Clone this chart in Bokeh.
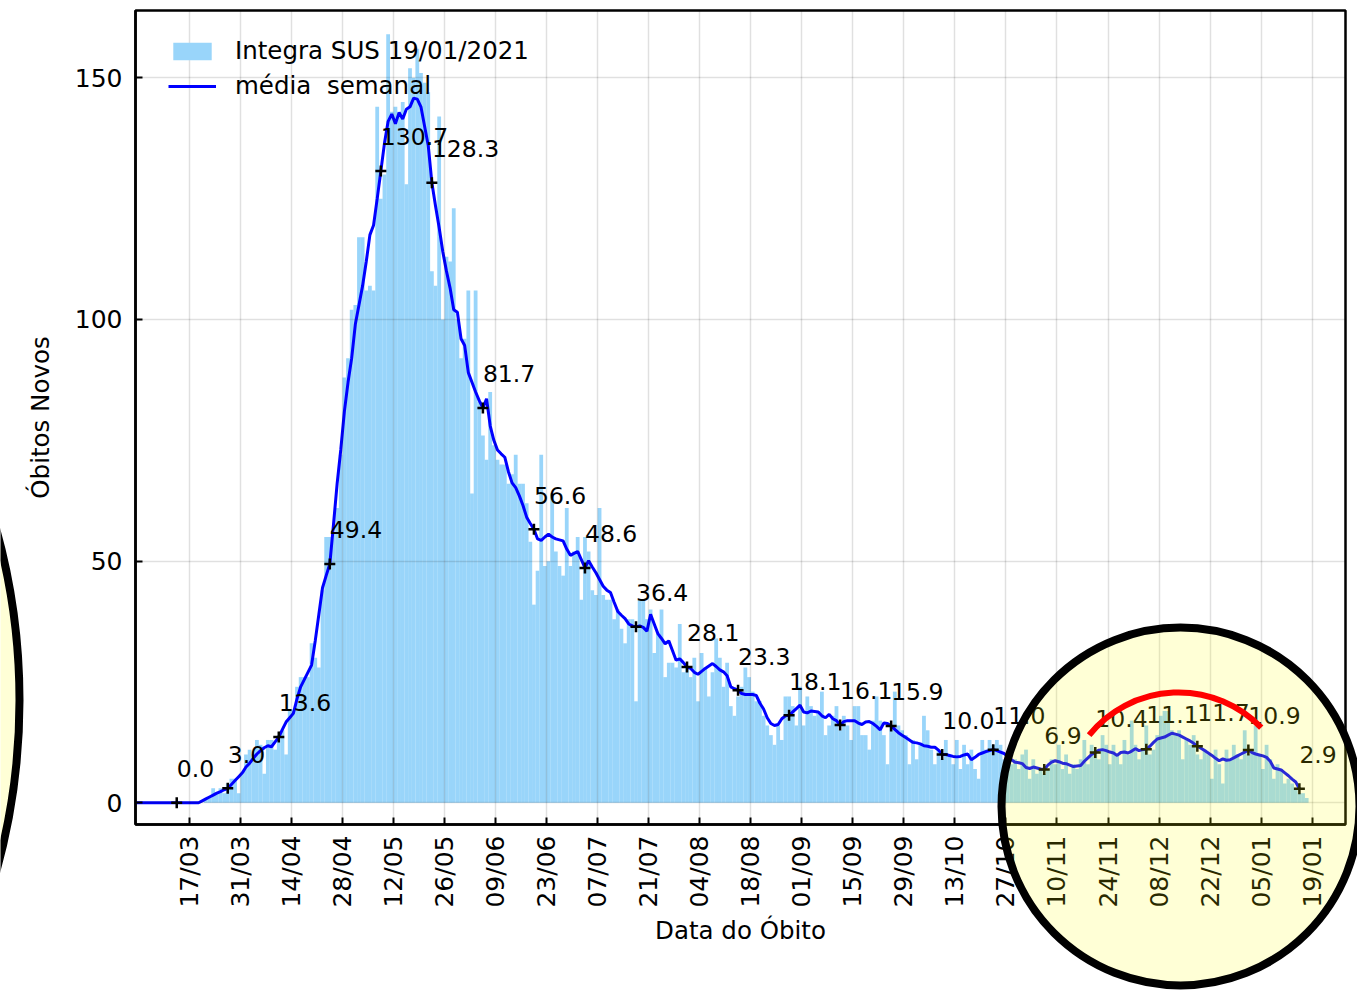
import math
from bokeh.plotting import figure
from bokeh.models import Range1d, FixedTicker, Legend, LegendItem, ColumnDataSource
from bokeh.embed import file_html
from bokeh.resources import INLINE
from bokeh.core.properties import value

FONT = "DejaVu Sans"

# ---- data -------------------------------------------------------------
datas_eixo = ["17/03", "31/03", "14/04", "28/04", "12/05", "26/05", "09/06", "23/06",
              "07/07", "21/07", "04/08", "18/08", "01/09", "15/09", "29/09", "13/10",
              "27/10", "10/11", "24/11", "08/12", "22/12", "05/01", "19/01"]
dias_eixo = [0, 14, 28, 42, 56, 70, 84, 98, 112, 126, 140, 154, 168, 182, 196, 210,
             224, 238, 252, 266, 280, 294, 308]

# daily deaths, first value = day 3 (days counted from 17/03/2020)
obitos_inicio = 3
obitos_diarios = [
    0, 1, 1, 3, 2, 3, 2, 4, 5, 5,
    2, 6, 10, 11, 10, 13, 12, 6, 13, 13,
    11, 14, 15, 10, 19, 19, 24, 26, 26, 26,
    33, 30, 28, 44, 55, 55, 56, 61, 72, 88,
    92, 102, 103, 117, 117, 106, 107, 106, 144, 125,
    130, 159, 143, 144, 143, 145, 128, 152, 150, 156,
    151, 149, 147, 110, 107, 142, 100, 113, 112, 123,
    100, 92, 96, 106, 64, 106, 83, 76, 71, 85,
    74, 71, 70, 70, 66, 68, 72, 66, 66, 62,
    54, 41, 48, 72, 49, 50, 64, 52, 49, 47,
    61, 49, 52, 55, 42, 55, 52, 44, 43, 61,
    43, 42, 42, 38, 40, 36, 33, 38, 38, 21,
    42, 42, 38, 40, 31, 35, 40, 26, 29, 29,
    28, 37, 27, 28, 26, 30, 21, 31, 28, 22,
    27, 34, 30, 24, 29, 20, 18, 22, 24, 28,
    26, 23, 21, 21, 18, 16, 14, 12, 16, 13,
    22, 22, 20, 16, 24, 16, 22, 20, 18, 19,
    23, 14, 16, 18, 20, 15, 18, 16, 13, 20,
    20, 14, 14, 11, 17, 22, 17, 14, 8, 16,
    23, 16, 15, 14, 8, 13, 9, 12, 18, 15,
    11, 8, 11, 9, 13, 10, 8, 13, 7, 12,
    8, 11, 7, 5, 13, 11, 13, 12, 13, 12,
    9, 10, 8, 9, 7, 10, 11, 5, 9, 6,
    7, 6, 7, 9, 8, 12, 7, 10, 6, 8,
    7, 9, 13, 8, 12, 11, 9, 14, 12, 8,
    12, 10, 8, 13, 10, 17, 12, 9, 11, 16,
    10, 11, 14, 18, 19, 19, 15, 14, 15, 9,
    13, 12, 14, 10, 9, 11, 10, 5, 11, 8,
    4, 11, 9, 12, 10, 9, 15, 10, 11, 16,
    10, 7, 12, 9, 5, 8, 7, 4, 5, 4,
    3, 2, 2, 1,
]

# weekly mean, first value = day -15
media_inicio = -15
media_semanal = [
    0.0, 0.0, 0.0, 0.0, 0.0, 0.0, 0.0, 0.0, 0.0, 0.0,
    0.0, 0.0, 0.0, 0.0, 0.0, 0.0, 0.0, 0.0,
    0.4, 0.8, 1.2, 1.6, 2.0, 2.3, 2.7, 3.0, 3.8, 4.6,
    5.4, 6.2, 7.4, 8.2, 9.2, 10.1, 10.8, 11.4, 11.8, 11.6,
    12.6, 13.6, 15.2, 16.7, 17.6, 18.5, 21.5, 24.0, 25.5, 27.0,
    28.5, 33.5, 39.0, 44.5, 47.0, 49.4, 57.5, 66.0, 73.0, 81.0,
    87.0, 92.0, 99.0, 103.0, 107.0, 112.0, 117.5, 119.5, 125.0, 130.7,
    136.5, 141.0, 142.5, 140.5, 142.8, 141.5, 143.5, 144.0, 145.8, 145.6,
    144.0, 140.0, 136.0, 128.3, 123.5, 119.0, 114.0, 110.0, 106.5, 102.0,
    101.5, 96.0, 94.6, 89.0, 87.0, 85.0, 83.2, 81.7, 83.6, 78.0,
    75.0, 73.0, 72.2, 71.5, 68.5, 66.2, 65.2, 63.5, 61.5, 59.1,
    57.8, 56.6, 54.6, 54.3, 55.0, 55.6, 55.0, 54.6, 54.4, 54.2,
    52.5, 51.2, 51.6, 52.0, 50.3, 48.6, 50.1, 48.8, 47.6, 46.2,
    44.8, 44.0, 43.5, 41.5, 39.6, 38.8, 38.1, 37.0, 36.6, 36.4,
    36.6, 36.3, 35.5, 39.0, 37.0, 35.0, 34.0, 32.9, 33.5, 31.5,
    29.5, 29.8, 29.0, 28.1, 27.8, 27.0, 26.6, 27.2, 27.8, 28.3,
    28.8, 28.2, 27.5, 27.1, 26.3, 24.0, 23.6, 23.3, 22.6, 22.4,
    22.4, 22.4, 22.2, 20.6, 19.4, 17.6, 16.4, 16.0, 16.2, 17.4,
    18.0, 18.1, 18.8, 19.5, 20.2, 18.8, 18.6, 19.0, 18.9, 18.8,
    18.0, 17.6, 18.3, 17.4, 17.0, 16.1, 16.8, 17.0, 17.0, 17.0,
    16.5, 16.2, 16.7, 16.8, 16.4, 15.8, 15.1, 16.5, 16.4, 15.9,
    15.2, 14.5, 14.0, 13.5, 13.0, 12.5, 12.4, 12.2, 11.8, 11.7,
    11.5, 11.5, 10.9, 10.0, 10.0, 9.8, 9.6, 9.5, 9.6, 9.9,
    10.1, 8.9, 9.4, 10.0, 10.3, 10.6, 10.8, 11.0, 10.8, 10.5,
    10.2, 9.5, 8.9, 8.4, 8.3, 8.1, 7.3, 7.1, 7.4, 7.2,
    7.0, 6.9, 7.8, 8.4, 8.7, 8.5, 8.2, 8.1, 7.8, 7.5,
    7.6, 7.7, 8.6, 9.3, 10.0, 10.4, 10.9, 11.0, 10.8, 10.5,
    10.3, 9.8, 10.4, 10.5, 10.3, 10.7, 11.2, 10.8, 11.0, 11.1,
    11.7, 12.5, 13.2, 13.4, 13.6, 14.0, 14.4, 14.2, 14.0, 13.6,
    13.2, 12.8, 12.3, 11.7, 11.3, 10.8, 10.3, 9.8, 9.2, 8.7,
    9.1, 8.8, 8.9, 9.3, 9.7, 10.1, 10.5, 10.9, 10.4, 10.1,
    9.9, 9.7, 9.4, 8.6, 7.2, 7.0, 6.8, 6.2, 5.6, 4.9,
    4.3, 2.9,
]

# fortnightly annotated points
rotulos_dias = [-4, 10, 24, 38, 52, 66, 80, 94, 108, 122, 136, 150, 164, 178, 192,
                206, 220, 234, 248, 262, 276, 290, 304]
rotulos_valores = [0.0, 3.0, 13.6, 49.4, 130.7, 128.3, 81.7, 56.6, 48.6, 36.4, 28.1,
                   23.3, 18.1, 16.1, 15.9, 10.0, 11.0, 6.9, 10.4, 11.1, 11.7, 10.9, 2.9]

y_ticks = [0, 50, 100, 150]

# ---- layout -----------------------------------------------------------
W, H = 1357, 995
FL, FT, FW, FH = 135, 10, 1210, 814
X0, X1 = -14.81, 317.15
Y0, Y1 = -4.49, 163.93

p = figure(width=W, height=H, x_range=Range1d(X0, X1), y_range=Range1d(Y0, Y1),
           output_backend="svg", toolbar_location=None,
           min_border_left=FL, min_border_right=W - FL - FW,
           min_border_top=FT, min_border_bottom=H - FT - FH)
p.background_fill_color = "white"
p.border_fill_color = "white"
p.outline_line_color = "black"
p.outline_line_width = 2.5

bar_src = ColumnDataSource(dict(
    x=[obitos_inicio + k + 0.5 for k in range(len(obitos_diarios))],
    top=obitos_diarios))
bars = p.vbar(x="x", top="top", width=1.04, bottom=0, source=bar_src,
              fill_color="#99d5fa", line_color=None, level="underlay")

line_src = ColumnDataSource(dict(
    x=[media_inicio + k + 0.5 for k in range(len(media_semanal))],
    y=media_semanal))
ln = p.line(x="x", y="y", source=line_src, line_color="#0000ff", line_width=3)

lab_src = ColumnDataSource(dict(
    x=[d + 0.5 for d in rotulos_dias],
    y=rotulos_valores,
    ty=[v + 5 for v in rotulos_valores],
    t=["%.1f" % v for v in rotulos_valores]))
p.scatter(x="x", y="y", source=lab_src, marker="cross", size=11, line_width=2.5,
          line_color="black")
p.text(x="x", y="ty", text="t", source=lab_src, text_font=value(FONT),
       text_font_size="23.5px", text_align="left", text_baseline="alphabetic",
       y_offset=-10, text_color="black")

# axes
for ax in (p.xaxis, p.yaxis):
    ax.axis_line_color = "black"
    ax.axis_line_width = 2.5
    ax.major_tick_in = 7
    ax.major_tick_out = 0
    ax.major_tick_line_width = 2
    ax.major_tick_line_color = "black"
    ax.minor_tick_line_color = None
    ax.major_label_text_font = FONT
    ax.major_label_text_font_size = "25px"
    ax.major_label_text_color = "black"
    ax.axis_label_text_font = FONT
    ax.axis_label_text_font_size = "24.5px"
    ax.axis_label_text_font_style = "normal"
    ax.axis_label_text_color = "black"

p.xaxis.ticker = FixedTicker(ticks=dias_eixo)
p.xaxis.major_label_overrides = {d: s for d, s in zip(dias_eixo, datas_eixo)}
p.xaxis.major_label_orientation = math.pi / 2
p.xaxis.major_label_standoff = 11
p.xaxis.axis_label = "Data do Óbito"
p.xaxis.axis_label_standoff = 5

p.yaxis.ticker = FixedTicker(ticks=y_ticks)
p.yaxis.major_label_standoff = 13
p.yaxis.axis_label = "Óbitos Novos"
p.yaxis.axis_label_standoff = 17

p.xgrid.ticker = FixedTicker(ticks=dias_eixo)
p.ygrid.ticker = FixedTicker(ticks=y_ticks)
for g in (p.xgrid, p.ygrid):
    g.grid_line_color = "black"
    g.grid_line_alpha = 0.12
    g.grid_line_width = 1.5
    g.level = "glyph"

legend = Legend(items=[LegendItem(label="Integra SUS 19/01/2021", renderers=[bars]),
                       LegendItem(label="média  semanal", renderers=[ln])],
                location=(33, 724))
legend.label_text_font = FONT
legend.label_text_font_size = "24.5px"
legend.label_text_color = "black"
legend.glyph_width = 48
legend.glyph_height = 22
legend.label_standoff = 19
legend.spacing = 6
legend.padding = 0
legend.margin = 0
legend.background_fill_alpha = 0
legend.border_line_alpha = 0
p.add_layout(legend)

# ---- highlight overlay: a transparent figure in pixel coordinates on top --
ov = figure(width=W, height=H, x_range=Range1d(0, W), y_range=Range1d(0, H),
            output_backend="svg", toolbar_location=None,
            x_axis_location=None, y_axis_location=None,
            min_border=0, min_border_left=0, min_border_right=0,
            min_border_top=0, min_border_bottom=0,
            styles={"position": "absolute", "top": "0px", "left": "0px",
                    "pointer-events": "none"})
ov.background_fill_alpha = 0
ov.border_fill_alpha = 0
ov.outline_line_color = None
ov.grid.visible = False

# circles given in page pixels (x right, y down) -> flip y
circ_x = [-621, 1180]
circ_y = [H - 700, H - 806]
circ_r = [640, 179]
ov.circle(x=circ_x, y=circ_y, radius=circ_r, fill_color="#ffff00", fill_alpha=0.16,
          line_color="black", line_width=8)
ov.arc(x=[1178], y=[H - 807], radius=115, start_angle=math.radians(44),
       end_angle=math.radians(141), line_color="#ff0000", line_width=6)

open("out.html", "w").write(file_html([p, ov], INLINE))
